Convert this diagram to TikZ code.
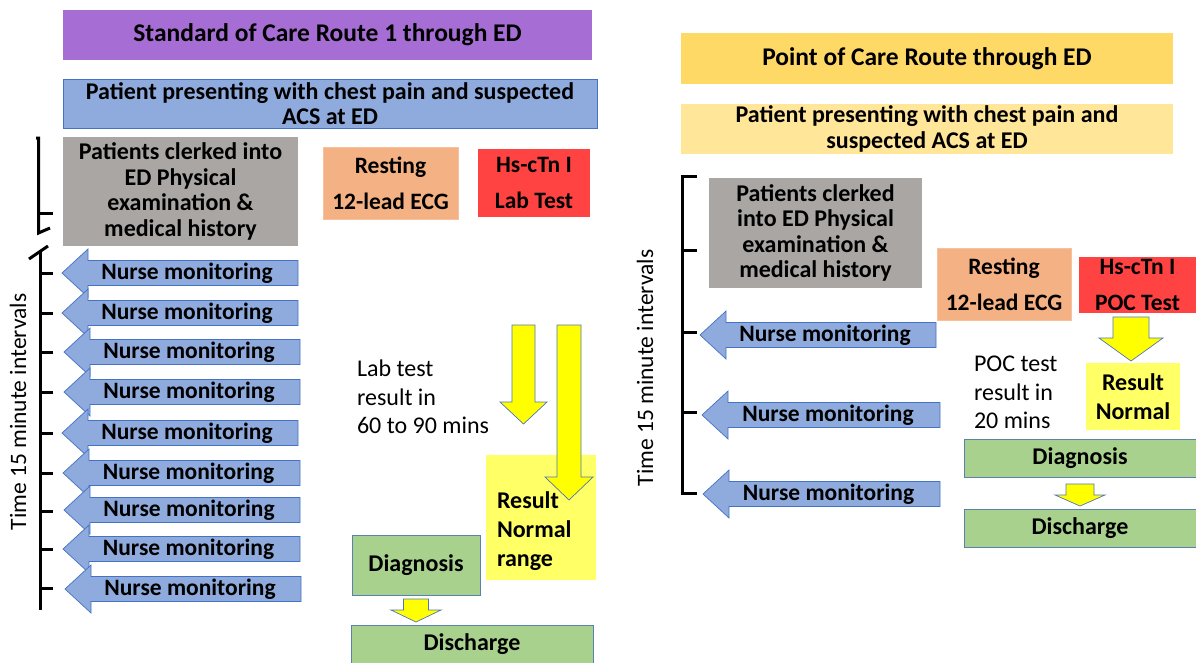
\documentclass[tikz,border=0pt]{standalone}
\usepackage{fontspec}
\setmainfont{Carlito}
\usetikzlibrary{calc}

\definecolor{cPurple}{HTML}{A66DD4}
\definecolor{cBlue}{HTML}{8FAADC}
\definecolor{cBlueEdge}{HTML}{4472C4}
\definecolor{cGray}{HTML}{AAA6A4}
\definecolor{cOrange}{HTML}{F4B183}
\definecolor{cRed}{HTML}{FF4343}
\definecolor{cYellow}{HTML}{FFFF00}
\definecolor{cResult}{HTML}{FFFF66}
\definecolor{cGreen}{HTML}{A9D18E}
\definecolor{cGreenEdge}{HTML}{5A82B0}
\definecolor{cGold}{HTML}{FFD966}
\definecolor{cPaleGold}{HTML}{FFE699}

% rectangular node given by its corners: style, name, x1, y1, x2, y2, text
\newcommand\blocknode[7]{%
  \node[#1, minimum width={(#5-#3)*1pt}, minimum height={(#6-#4)*1pt}]
    (#2) at ({(#3+#5)/2},{(#4+#6)/2}) {#7};}

% left-pointing nurse arrow: name, tip x, centre y, right x
\newcommand\nursearrow[4]{%
  \draw[nurseshape] (#2,#3) -- ++(26,-24) -- ++(0,11.5) -- (#4,{#3-12.5})
    -- (#4,{#3+12.5}) -- ({#2+26},{#3+12.5}) -- ++(0,11.5) -- cycle;
  \node[nursetext] (#1) at ({(#2+26+#4)/2-6},#3) {Nurse monitoring};}

% downward block arrow: centre x, top y, shaft half width, head base y, head half width, tip y
\newcommand\yellowdown[6]{%
  \draw[yellowshape] ({#1-#3},#2) -- ({#1+#3},#2) -- ({#1+#3},#4) -- ({#1+#5},#4)
    -- (#1,#6) -- ({#1-#5},#4) -- ({#1-#3},#4) -- cycle;}

% short block arrow between two boxes: from, to, top gap, head base offset, shaft half, head half
\newcommand\smalldown[6]{%
  \draw[yellowshape] ($(#1.south)+(-#5,#3)$) -- ($(#1.south)+(#5,#3)$)
    -- ($(#1.south)+(#5,#4)$) -- ($(#1.south)+(#6,#4)$)
    -- ($(#1.south |- #2.north)+(0,-3)$)
    -- ($(#1.south)+(-#6,#4)$) -- ($(#1.south)+(-#5,#4)$) -- cycle;}

\begin{document}
\begin{tikzpicture}[x=1pt,y=-1pt,
  every node/.style={inner sep=0pt, outer sep=0pt},
  boldtext/.style={font=\bfseries\fontsize{24}{25.5}\selectfont, align=center},
  titlepurple/.style={boldtext, fill=cPurple, font=\bfseries\fontsize{25.5}{28}\selectfont},
  titlegold/.style={boldtext, fill=cGold, font=\bfseries\fontsize{25.5}{28}\selectfont},
  patientblue/.style={boldtext, fill=cBlue, draw=cBlueEdge, line width=0.8pt},
  patientgold/.style={boldtext, fill=cPaleGold},
  clerkgray/.style={boldtext, fill=cGray},
  ecgorange/.style={boldtext, fill=cOrange, draw=cOrange!80!white, font=\bfseries\fontsize{23.5}{36}\selectfont},
  troponinred/.style={boldtext, fill=cRed, font=\bfseries\fontsize{23.5}{36}\selectfont},
  resultbox/.style={fill=cResult},
  greenbox/.style={boldtext, fill=cGreen, draw=cGreenEdge, line width=0.8pt},
  nurseshape/.style={fill=cBlue, draw=cBlueEdge, line width=0.7pt, line join=miter},
  nursetext/.style={font=\bfseries\fontsize{23.5}{25}\selectfont},
  yellowshape/.style={fill=cYellow, draw=cBlueEdge!80!gray, line width=0.7pt, line join=miter},
  plaintext/.style={font=\fontsize{24}{28.5}\selectfont, align=left},
  timeline/.style={line width=3pt, line cap=butt},
  timelabel/.style={font=\fontsize{23.5}{25}\selectfont, rotate=90}]

\useasboundingbox[fill=white] (0,0) rectangle (1196,662);

% ---------------- Standard of care route ----------------
\blocknode{titlepurple}{titleL}{63}{10}{592}{60}{Standard of Care Route 1 through ED}
\blocknode{patientblue}{patientL}{63}{79}{597}{128}{Patient presenting with chest pain and suspected\\ACS at ED}
\blocknode{clerkgray}{clerkL}{63}{137}{298}{246}{Patients clerked into\\ED Physical\\examination \&\\medical history}
\blocknode{ecgorange}{ecgL}{323}{147}{458}{219}{Resting\\12-lead ECG}
\blocknode{troponinred}{labL}{478}{149}{590}{217}{Hs-cTn I\\Lab Test}

% time bracket with break
\draw[timeline] (36,138) -- (38.5,138) -- (38.5,233) -- (50,228);
\draw[timeline] (38.5,213) -- (53,213);
\draw[timeline] (29,259) -- (48,246);
\draw[timeline] (40,252) -- (40,610);
\foreach \ty in {273,313,352,392,433,473,511,549,588}
  \draw[timeline] (40,\ty) -- (53,\ty);
\node[timelabel] (timeL) at (18,412) {Time 15 minute intervals};

\nursearrow{nurseL1}{62}{273}{298}
\nursearrow{nurseL2}{62}{313}{298}
\nursearrow{nurseL3}{64}{352}{300}
\nursearrow{nurseL4}{64}{392}{300}
\nursearrow{nurseL5}{62}{433}{298}
\nursearrow{nurseL6}{63}{473}{300}
\nursearrow{nurseL7}{64}{510}{300}
\nursearrow{nurseL8}{63}{549}{300}
\nursearrow{nurseL9}{65}{589}{301}

\node[plaintext, anchor=north west] (labtime) at (357,360) {Lab test\\result in\\60 to 90 mins};

\blocknode{resultbox}{resultL}{486}{455}{596}{580}{}
\node[boldtext, align=left, anchor=north west, font=\bfseries\fontsize{24}{29}\selectfont]
  (resultLtext) at (497,492) {Result\\Normal\\range};

\yellowdown{523.5}{325}{11.5}{402}{23.5}{424}
\yellowdown{569}{325}{12}{477}{24}{500}

\blocknode{greenbox}{diagL}{352}{535}{480}{595}{Diagnosis}
\blocknode{greenbox}{dischL}{351}{625}{593}{663}{Discharge}
\smalldown{diagL}{dischL}{4}{15}{12.5}{25}

% ---------------- Point of care route ----------------
\blocknode{titlegold}{titleR}{681}{33}{1173}{84}{Point of Care Route through ED}
\blocknode{patientgold}{patientR}{681}{104}{1173}{154}{Patient presenting with chest pain and\\suspected ACS at ED}
\blocknode{clerkgray}{clerkR}{709}{178}{922}{288}{Patients clerked\\into ED Physical\\examination \&\\medical history}
\blocknode{ecgorange}{ecgR}{937}{248}{1071}{320}{Resting\\12-lead ECG}
\blocknode{troponinred}{pocR}{1079}{257}{1196}{313}{Hs-cTn I\\POC Test}

\draw[timeline] (682,176) -- (682,493);
\foreach \ty in {176,250,332,412,493}
  \draw[timeline] (680.5,\ty) -- (697,\ty);
\node[timelabel] (timeR) at (645,368) {Time 15 minute intervals};

\nursearrow{nurseR1}{700}{335}{936}
\nursearrow{nurseR2}{702}{415}{940}
\nursearrow{nurseR3}{703}{494}{940}

\yellowdown{1131}{317}{18}{338}{32}{361}
\blocknode{resultbox}{resultR}{1086}{363}{1180}{430}{}
\node[boldtext, font=\bfseries\fontsize{24}{29}\selectfont] (resultRtext) at (resultR) {Result\\Normal};

\node[plaintext, anchor=north west] (poctime) at (974,356) {POC test\\result in\\20 mins};

\blocknode{greenbox}{diagR}{964}{439}{1196}{477}{Diagnosis}
\blocknode{greenbox}{dischR}{964}{509}{1196}{547}{Discharge}
\smalldown{diagR}{dischR}{7}{18}{14}{25}

\end{tikzpicture}
\end{document}
